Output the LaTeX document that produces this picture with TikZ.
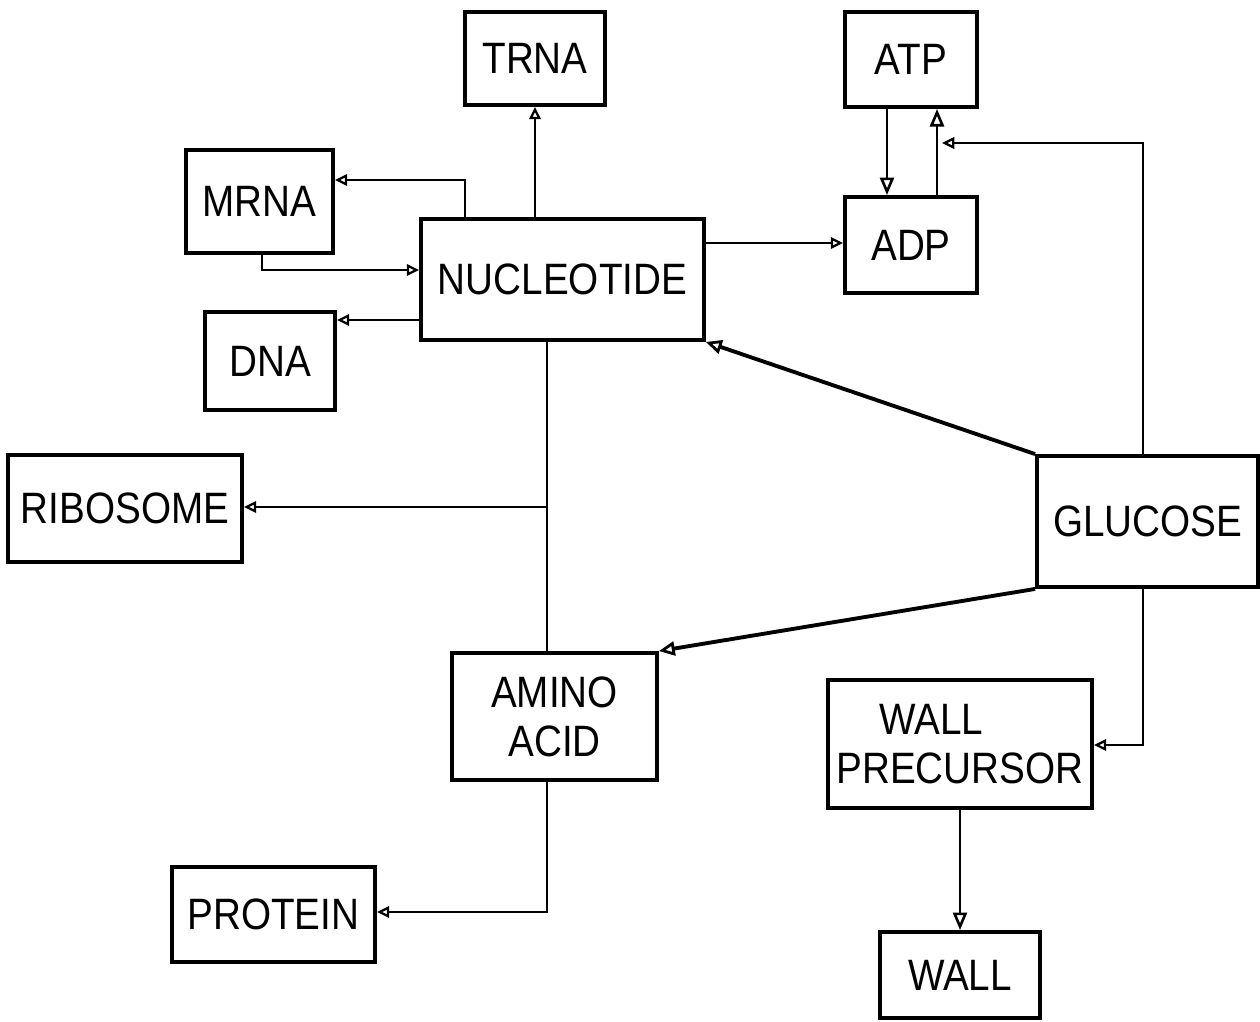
\documentclass[tikz,border=0pt]{standalone}
\usepackage{fontspec}
\setmainfont{Liberation Sans}[FakeStretch=0.88]
\usetikzlibrary{arrows.meta}
\begin{document}
\begin{tikzpicture}[x=0.02cm,y=-0.02cm,
  box/.style={draw,line width=2.2pt,inner sep=0pt,align=center,
    font=\fontsize{25}{28}\selectfont},
  sz/.style 2 args={minimum width=#1*0.02cm,minimum height=#2*0.02cm},
  conn/.style={line width=1.5pt},
  arr/.style={conn,-{Triangle[open,length=7pt,width=6.5pt,line width=1.3pt]}},
  arrbig/.style={conn,-{Triangle[open,length=10pt,width=8pt,line width=1.5pt]}},
  arrthick/.style={line width=2.2pt,-{Triangle[open,length=9pt,width=8pt,line width=1.6pt]}}]
\useasboundingbox (0,0) rectangle (1260,1021);
% nodes
\node[box,sz={140}{93}] (trna) at (535,58.5) {TRNA};
\node[box,sz={132}{95}] (atp) at (911,59.5) {ATP};
\node[box,sz={147}{103}] (mrna) at (259.5,201.5) {MRNA};
\node[box,sz={283}{121}] (nuc) at (562.5,279.5) {NUCLEOTIDE};
\node[box,sz={132}{96}] (adp) at (911,245) {ADP};
\node[box,sz={130}{98}] (dna) at (270,361) {DNA};
\node[box,sz={234}{107}] (ribo) at (125,508.5) {RIBOSOME};
\node[box,sz={221}{131}] (glu) at (1147.5,521.5) {GLUCOSE};
\node[box,sz={205}{127}] (amino) at (554.5,716.5) {AMINO\\ACID};
\node[box,sz={264}{128}] (wp) at (960,744) {WALL\hspace*{1.3em}\\PRECURSOR};
\node[box,sz={203}{95}] (prot) at (273.5,914.5) {PROTEIN};
\node[box,sz={160}{86}] (wall) at (960,975) {WALL};
% helper coordinates
\coordinate (c1) at (465,180);
\coordinate (c2) at (262,270);
\coordinate (c3) at (380,320);
\coordinate (c4) at (780,243);
\coordinate (c5) at (887,150);
\coordinate (c6) at (937,143);
\coordinate (c6a) at (942,143);
\coordinate (c7) at (1143,143);
\coordinate (c8) at (547,507);
\coordinate (c9) at (1143,745);
\coordinate (c10) at (547,912);
% connectors
\draw[arr] (trna.south |- nuc.north) -- (trna.south);
\draw[arr] (c1 |- nuc.north) -- (c1) -- (c1 -| mrna.east);
\draw[arr] (c2 |- mrna.south) -- (c2) -- (c2 -| nuc.west);
\draw[arr] (c3 -| nuc.west) -- (c3 -| dna.east);
\draw[arr] (c4 -| nuc.east) -- (c4 -| adp.west);
\draw[arrbig] (c5 |- atp.south) -- (c5 |- adp.north);
\draw[arrbig] (c6 |- adp.north) -- (c6 |- atp.south);
\draw[arr] (c7 |- glu.north) -- (c7) -- (c6a);
\draw[arrthick] (glu.north west) -- (nuc.south east);
\draw[conn] (c8 |- nuc.south) -- (c8 |- amino.north);
\draw[arr] (c8) -- (c8 -| ribo.east);
\draw[arrthick] (glu.south west) -- (amino.north east);
\draw[arr] (c9 |- glu.south) -- (c9) -- (c9 -| wp.east);
\draw[arr] (c10 |- amino.south) -- (c10) -- (c10 -| prot.east);
\draw[arrbig] (wp.south) -- (wall.north);
\end{tikzpicture}
\end{document}
